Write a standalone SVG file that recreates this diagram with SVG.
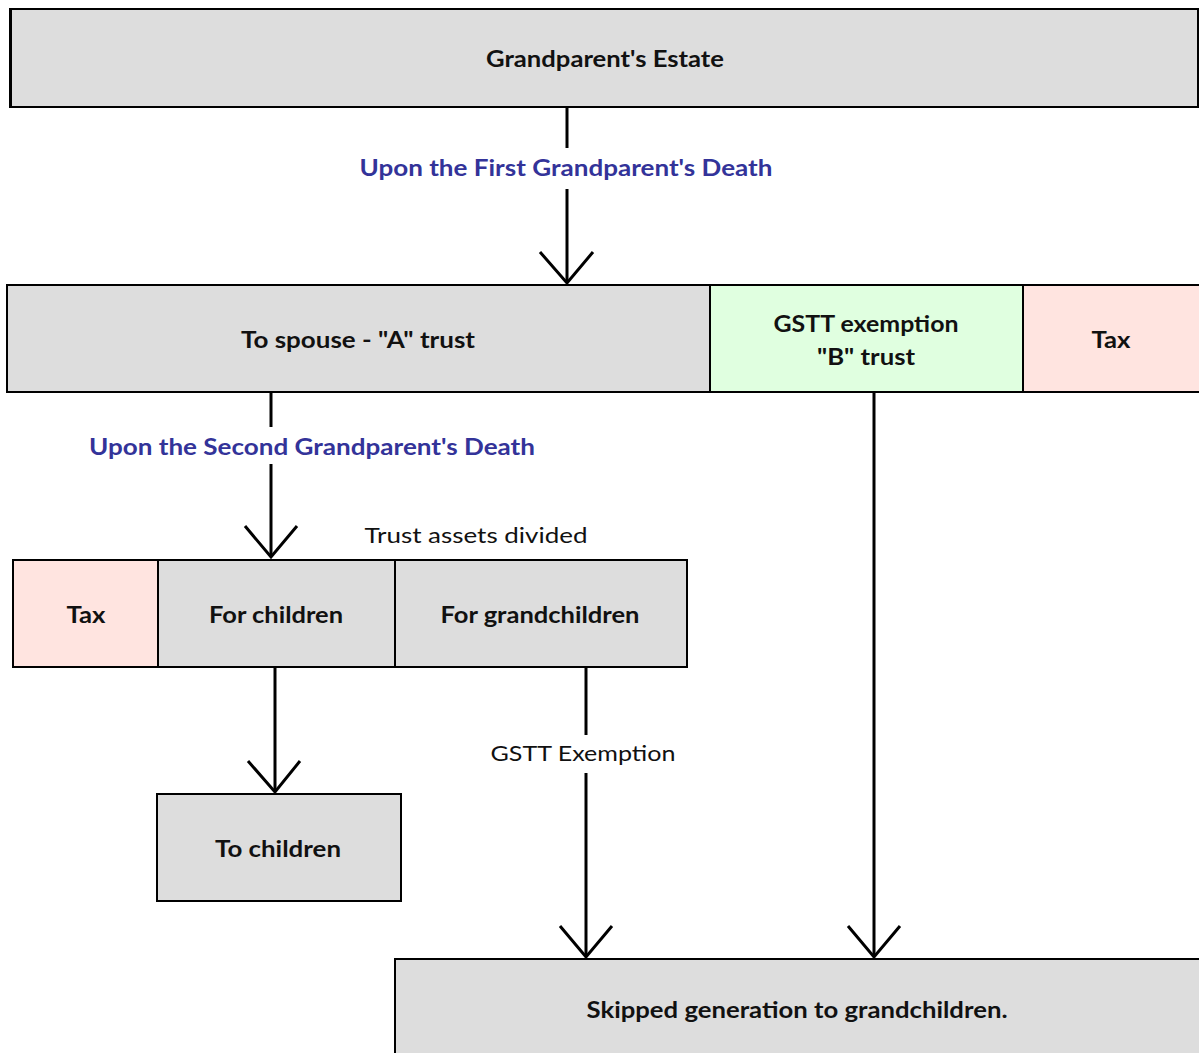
<svg xmlns="http://www.w3.org/2000/svg" width="1199" height="1053" viewBox="0 0 1199 1053">
  <style>
    .box { stroke: #000; stroke-width: 2; }
    .grey { fill: #dddddd; }
    .green { fill: #e0ffe0; }
    .pink { fill: #ffe4e0; }
    .lbl { font-family: Lato, "Open Sans", "Liberation Sans", sans-serif; font-size: 22px; font-weight: bold; fill: #111; text-anchor: middle; }
    .note { font-family: Lato, "Open Sans", "Liberation Sans", sans-serif; font-size: 22px; fill: #111; text-anchor: middle; }
    .blue { font-family: Lato, "Open Sans", "Liberation Sans", sans-serif; font-size: 22px; font-weight: bold; fill: #333399; text-anchor: middle; }
    .wire { stroke: #000; stroke-width: 3; fill: none; }
    .head { stroke: #000; stroke-width: 3; fill: none; stroke-linejoin: miter; }
  </style>
  <rect width="1199" height="1053" fill="#fff"/>

  <g id="connectors">
    <!-- estate to spouse row -->
    <line class="wire" x1="567" y1="107" x2="567" y2="148"/>
    <line class="wire" x1="567" y1="189" x2="567" y2="283"/>
    <polyline class="head" points="540,252 567,283 593,252"/>
    <!-- A trust to divided assets -->
    <line class="wire" x1="271" y1="393" x2="271" y2="427"/>
    <line class="wire" x1="271" y1="464" x2="271" y2="557"/>
    <polyline class="head" points="245,526 271,557 297,526"/>
    <!-- for children to children -->
    <line class="wire" x1="275" y1="667" x2="275" y2="792"/>
    <polyline class="head" points="248,761 275,792 300,761"/>
    <!-- for grandchildren to skipped generation -->
    <line class="wire" x1="586" y1="667" x2="586" y2="735"/>
    <line class="wire" x1="586" y1="773" x2="586" y2="957"/>
    <polyline class="head" points="560,926 586,957 612,926"/>
    <!-- B trust to skipped generation -->
    <line class="wire" x1="874" y1="393" x2="874" y2="957"/>
    <polyline class="head" points="848,926 874,957 900,926"/>
  </g>

  <g id="estate">
    <rect class="box grey" x="10" y="9" width="1188" height="98"/>
    <line x1="10.5" y1="9" x2="10.5" y2="107" stroke="#000" stroke-width="3"/>
    <text class="lbl" x="605" y="67" textLength="238" lengthAdjust="spacingAndGlyphs">Grandparent's Estate</text>
  </g>

  <g id="label-first-death">
    <text class="blue" x="566" y="176" textLength="413" lengthAdjust="spacingAndGlyphs">Upon the First Grandparent's Death</text>
  </g>

  <g id="spouse-a-trust">
    <rect class="box grey" x="7" y="285" width="703" height="107"/>
    <text class="lbl" x="358" y="348" textLength="234" lengthAdjust="spacingAndGlyphs">To spouse - "A" trust</text>
  </g>

  <g id="gstt-b-trust">
    <rect class="box green" x="710" y="285" width="313" height="107"/>
    <text class="lbl" x="866" y="332" textLength="185" lengthAdjust="spacingAndGlyphs">GSTT exemption</text>
    <text class="lbl" x="866" y="365" textLength="98" lengthAdjust="spacingAndGlyphs">"B" trust</text>
  </g>

  <g id="tax-first">
    <rect class="box pink" x="1023" y="285" width="178" height="107"/>
    <text class="lbl" x="1111" y="348" textLength="39" lengthAdjust="spacingAndGlyphs">Tax</text>
  </g>

  <g id="label-second-death">
    <text class="blue" x="312" y="455" textLength="446" lengthAdjust="spacingAndGlyphs">Upon the Second Grandparent's Death</text>
  </g>

  <g id="label-divided">
    <text class="note" x="476" y="543" textLength="223" lengthAdjust="spacingAndGlyphs">Trust assets divided</text>
  </g>

  <g id="tax-second">
    <rect class="box pink" x="13" y="560" width="145" height="107"/>
    <text class="lbl" x="86" y="623" textLength="39" lengthAdjust="spacingAndGlyphs">Tax</text>
  </g>

  <g id="for-children">
    <rect class="box grey" x="158" y="560" width="237" height="107"/>
    <text class="lbl" x="276" y="623" textLength="134" lengthAdjust="spacingAndGlyphs">For children</text>
  </g>

  <g id="for-grandchildren">
    <rect class="box grey" x="395" y="560" width="292" height="107"/>
    <text class="lbl" x="540" y="623" textLength="199" lengthAdjust="spacingAndGlyphs">For grandchildren</text>
  </g>

  <g id="label-gstt-exemption">
    <text class="note" x="583" y="761" textLength="185" lengthAdjust="spacingAndGlyphs">GSTT Exemption</text>
  </g>

  <g id="to-children">
    <rect class="box grey" x="157" y="794" width="244" height="107"/>
    <text class="lbl" x="278" y="857" textLength="126" lengthAdjust="spacingAndGlyphs">To children</text>
  </g>

  <g id="skipped-generation">
    <rect class="box grey" x="395" y="959" width="806" height="100"/>
    <text class="lbl" x="797" y="1018" textLength="421" lengthAdjust="spacingAndGlyphs">Skipped generation to grandchildren.</text>
  </g>
</svg>
